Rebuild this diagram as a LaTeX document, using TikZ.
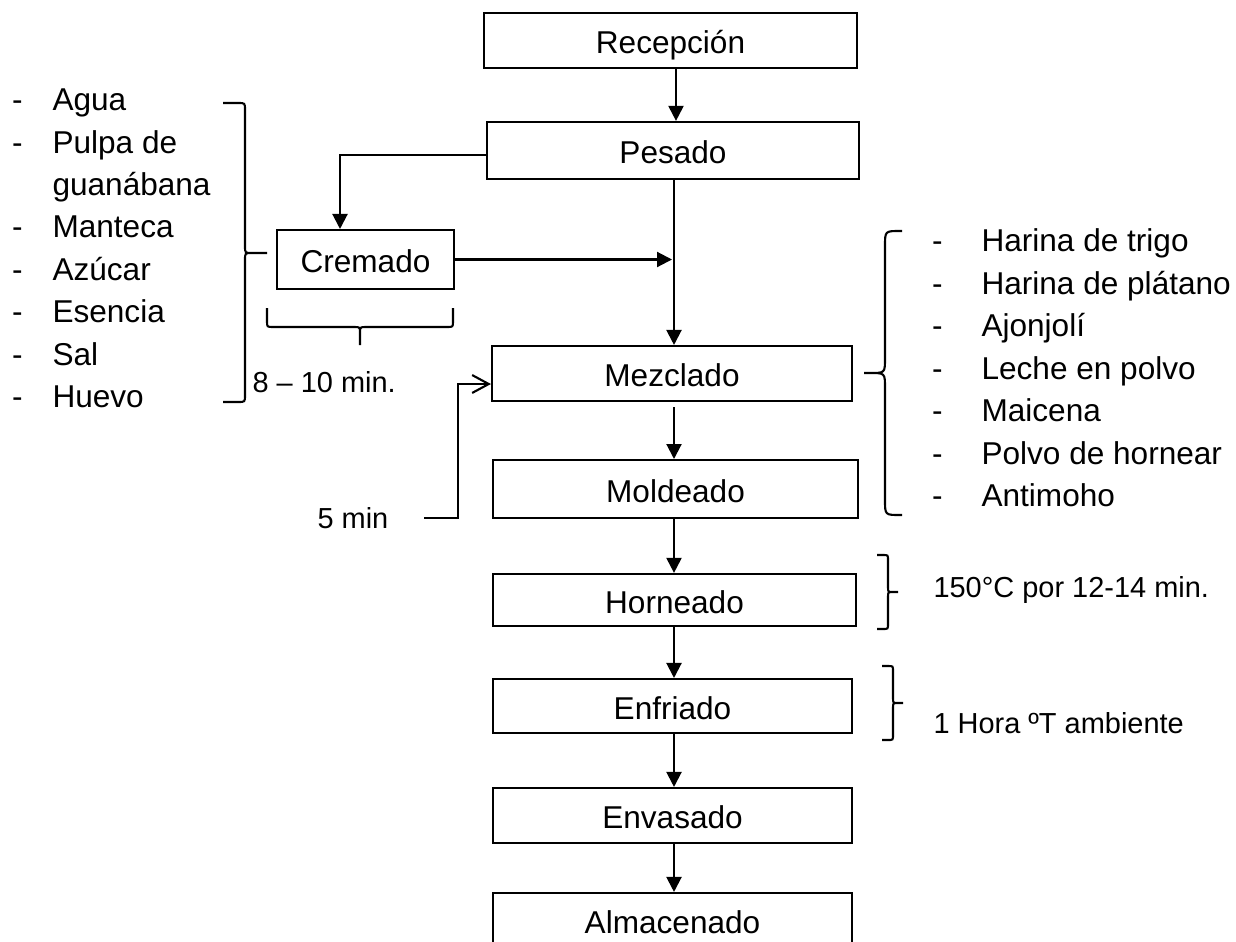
\documentclass[tikz,border=0pt]{standalone}
\usepackage{fontspec}
\setmainfont{Liberation Sans}
\usetikzlibrary{arrows.meta}

% Vertical curly brace: end x, spine x, tip x, top y, tip y, bottom y, corner radius, direction (+1 = "}", -1 = "{")
\newcommand\vcurly[8]{%
  \draw[brace] (#1,#4) -- ({#2-(#8)*#7},#4) .. controls (#2,#4) .. (#2,{#4+#7})
    -- (#2,{#5-#7}) .. controls (#2,#5) .. ({#2+(#8)*#7},#5) -- (#3,#5)
    -- ({#2+(#8)*#7},#5) .. controls (#2,#5) .. (#2,{#5+#7})
    -- (#2,{#6-#7}) .. controls (#2,#6) .. ({#2-(#8)*#7},#6) -- (#1,#6);}

\tikzset{
  box/.style={draw, line width=0.8pt, inner sep=0pt, text height=10.1pt, text depth=0pt,
              font=\fontsize{12}{14}\selectfont},
  flow/.style={line width=0.8pt, -{Triangle[length=5.7pt,width=5.7pt]}},
  feed/.style={line width=0.8pt, -{Straight Barb[length=6.3pt,width=6.8pt]}},
  brace/.style={line width=0.8pt},
  item/.style={anchor=base west, inner sep=0pt, font=\fontsize{12}{14}\selectfont},
  note/.style={anchor=base west, inner sep=0pt, font=\fontsize{11}{13}\selectfont},
}

\begin{document}
\begin{tikzpicture}[x=0.38pt, y=-0.38pt]
\useasboundingbox (0,0) rectangle (1236,941);
\clip (0,0) rectangle (1236,941);

% process steps
\node[box, minimum width=141.7pt, minimum height=20.9pt] (rec)  at (670.5,40.5)  {Recepción};
\node[box, minimum width=141.4pt, minimum height=21.7pt] (pes)  at (673,150.5)   {Pesado};
\node[box, minimum width=67.3pt,  minimum height=22.4pt] (crem) at (365.5,259.5) {Cremado};
\node[box, minimum width=136.8pt, minimum height=20.9pt] (mez)  at (672,373.5)   {Mezclado};
\node[box, minimum width=138.7pt, minimum height=22.0pt] (mol)  at (675.5,489)   {Moldeado};
\node[box, minimum width=137.9pt, minimum height=19.8pt] (hor)  at (674.5,600)   {Horneado};
\node[box, minimum width=136.4pt, minimum height=20.5pt] (enf)  at (672.5,706)   {Enfriado};
\node[box, minimum width=136.4pt, minimum height=20.9pt] (env)  at (672.5,815.5) {Envasado};
\node[box, minimum width=136.4pt, minimum height=20.9pt] (alm)  at (672.5,920.5) {Almacenado};

% main flow
\draw[flow] (rec.south -| 676,0) -- (pes.north -| 676,0);
\draw[flow] (pes.south -| 674,0) -- (mez.north -| 674,0);
\draw[flow, shorten <=1.9pt] (mez.south -| 674,0) -- (mol.north -| 674,0);
\draw[flow] (mol.south -| 674,0) -- (hor.north -| 674,0);
\draw[flow] (hor.south -| 674,0) -- (enf.north -| 674,0);
\draw[flow] (enf.south -| 674,0) -- (env.north -| 674,0);
\draw[flow] (env.south -| 674,0) -- (alm.north -| 674,0);

% creaming branch
\draw[flow] (pes.west |- 0,155) -| (crem.north -| 340,0);
\draw[flow] (crem.east) -- (crem.east -| mez.north);

% mixing time
\node[note] (mixtime) at (317,528) {5 min};
\coordinate (mixin) at (424,518);
\draw[feed] (mixin) -| (458,384) -- (mez.west |- 0,384);

% ingredients for creaming
\foreach \t [count=\i from 0] in {Agua, Pulpa de, guanábana, Manteca, Azúcar, Esencia, Sal, Huevo}
  \node[item] (wet\i) at (52,{110.7+42.4*\i}) {\t};
\foreach \i in {0,1,3,4,5,6,7}
  \node[item] (wetd\i) at (11.5,{110.7+42.4*\i}) {-};
\vcurly{223}{245}{267}{103}{253}{402}{7}{1}

% creaming time
\draw[brace] (267,308) -- (267,321) .. controls (267,327) .. (273,327) -- (354,327)
  .. controls (360,327) .. (360,333) -- (360,345) -- (360,333)
  .. controls (360,327) .. (366,327) -- (447,327) .. controls (453,327) .. (453,321) -- (453,308);
\node[note] (cremtime) at (252,392) {8 – 10 min.};

% dry ingredients for mixing
\foreach \t [count=\i from 0] in {Harina de trigo, Harina de plátano, Ajonjolí, Leche en polvo, Maicena, Polvo de hornear, Antimoho}{
  \node[item] (dry\i) at (981,{251.7+42.5*\i}) {\t};
  \node[item] (dryd\i) at (931.5,{251.7+42.5*\i}) {-};
}
\vcurly{902}{885}{864}{231}{373}{515}{15}{-1}

% baking and cooling conditions
\vcurly{877}{888}{898}{555}{592}{629}{5}{1}
\node[note] (bake) at (933,597) {150°C por 12-14 min.};
\vcurly{882}{893}{903}{666}{703}{740}{5}{1}
\node[note] (cool) at (933,733) {1 Hora ºT ambiente};
\end{tikzpicture}
\end{document}
